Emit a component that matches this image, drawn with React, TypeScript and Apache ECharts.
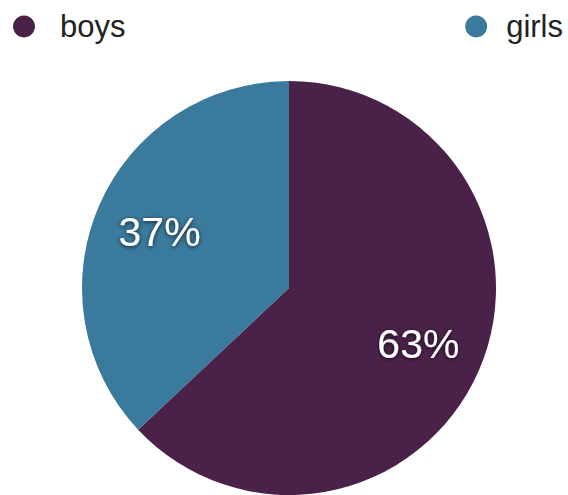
import React, { useEffect, useRef } from "react";
import * as echarts from "echarts";

const categories = ["boys", "girls"];
const values = [63, 37];
const colors = ["#4a2249", "#3a7a9c"];

export default function App() {
  const ref = useRef<HTMLDivElement>(null);
  useEffect(() => {
    if (!ref.current) return;
    const chart = echarts.init(ref.current, null, { renderer: "svg" });
    const data = categories.map((name, i) => ({
      name,
      value: values[i],
      itemStyle: { color: colors[i] },
    }));
    const legendCommon = {
      orient: "horizontal" as const,
      icon: "circle",
      itemHeight: 22,
      padding: 0,
      top: 11,
      selectedMode: false,
    };
    const textBase = {
      fontFamily: "Liberation Sans, Arial, sans-serif",
      fontSize: 31,
      color: "#222",
    };
    chart.setOption({
      animation: false,
      legend: [
        {
          ...legendCommon,
          left: 13,
          itemWidth: 42,
          data: [categories[0]],
          textStyle: { ...textBase, padding: [0, 0, 0, 10] },
        },
        {
          ...legendCommon,
          right: 5,
          itemWidth: 36,
          data: [categories[1]],
          textStyle: { ...textBase, padding: [0, 0, 0, 7] },
        },
      ],
      series: [
        {
          type: "pie",
          center: [289, 288],
          radius: [0, 207],
          startAngle: 90,
          clockwise: true,
          silent: true,
          label: { show: false },
          labelLine: { show: false },
          data,
        },
        {
          type: "pie",
          center: [289, 288],
          radius: [69, 207],
          startAngle: 90,
          clockwise: true,
          silent: true,
          itemStyle: { color: "rgba(0,0,0,0)" },
          label: {
            show: true,
            position: "inside",
            formatter: "{c}%",
            color: "#ffffff",
            fontFamily: "Liberation Sans, Arial, sans-serif",
            fontSize: 41,
            textShadowColor: "rgba(0,0,0,0.75)",
            textShadowBlur: 4,
            textShadowOffsetX: 0,
            textShadowOffsetY: 1,
          },
          labelLine: { show: false },
          data: categories.map((name, i) => ({ name, value: values[i] })),
        },
      ],
    });
    return () => chart.dispose();
  }, []);
  return (
    <div
      ref={ref}
      style={{ position: "absolute", left: 0, top: 0, width: 568, height: 495, background: "#fff" }}
    />
  );
}
